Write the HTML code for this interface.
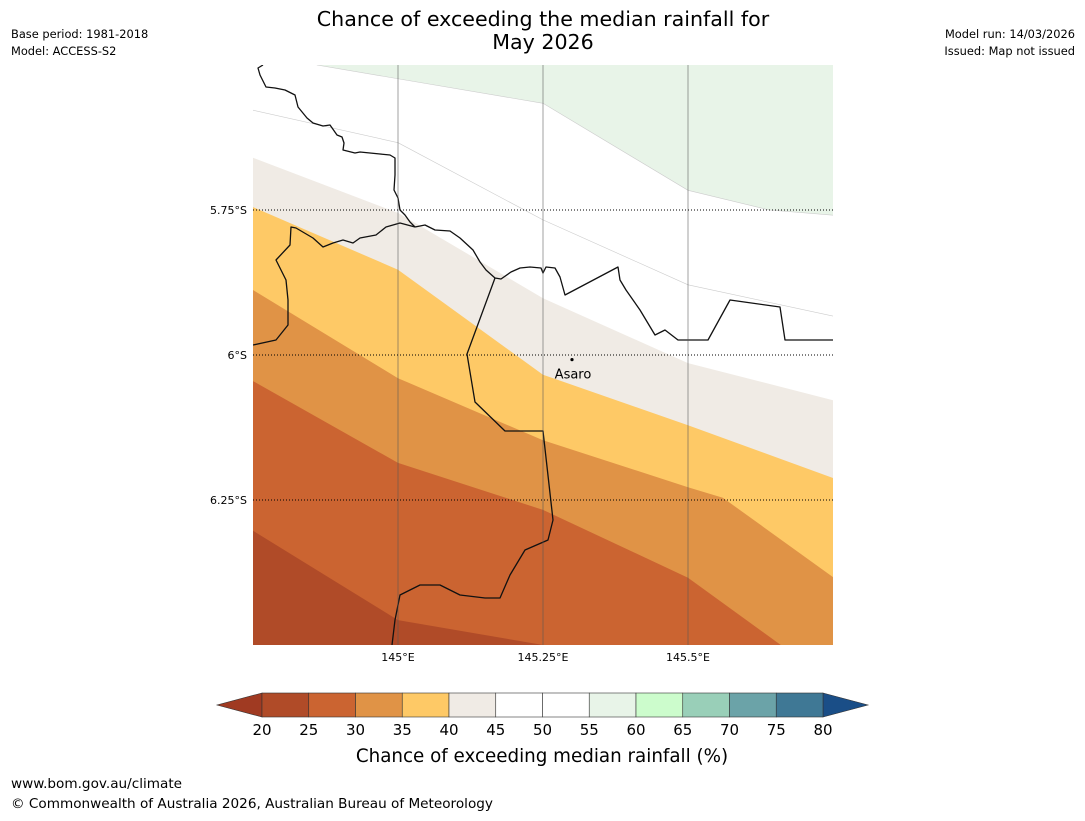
<!DOCTYPE html>
<html><head><meta charset="utf-8"><style>
body{margin:0;background:#fff;width:1085px;height:816px;overflow:hidden;font-family:"Liberation Sans","DejaVu Sans",sans-serif}
</style></head><body>
<svg id="s" width="1085" height="816" xmlns="http://www.w3.org/2000/svg" font-family="DejaVu Sans, Liberation Sans, sans-serif">
<text x="543" y="26" font-size="20.6" text-anchor="middle">Chance of exceeding the median rainfall for</text>
<text x="543" y="49" font-size="20.6" text-anchor="middle">May 2026</text>
<text x="11" y="38" font-size="11.4">Base period: 1981-2018</text>
<text x="11" y="55" font-size="11.4">Model: ACCESS-S2</text>
<text x="1075" y="38" font-size="11.4" text-anchor="end">Model run: 14/03/2026</text>
<text x="1075" y="55" font-size="11.4" text-anchor="end">Issued: Map not issued</text>
<clipPath id="mc"><rect x="253" y="65" width="580" height="580"/></clipPath>
<g id="map" clip-path="url(#mc)"></g>
<g id="grid"></g>
<g id="cbar"></g>
<text x="542" y="762" font-size="18.3" text-anchor="middle">Chance of exceeding median rainfall (%)</text>
<text x="11" y="788" font-size="13.6">www.bom.gov.au/climate</text>
<text x="11" y="808" font-size="13.6">© Commonwealth of Australia 2026, Australian Bureau of Meteorology</text>
</svg>
<script>
const lonRange=[144.75,145.75], latRange=[-5.5,-6.5];
const lonTicks=[145,145.25,145.5], lonLabels=['145°E','145.25°E','145.5°E'];
const latTicks=[-5.75,-6,-6.25], latLabels=['5.75°S','6°S','6.25°S'];
const bandLevels=[55,40,35,30,25,20];
const bandColors=['#e8f4e8','#f0ebe5','#fec966','#e09346','#cb6431','#b04b28'];
const bnd55=[[144.86,-5.5],[145.25,-5.566],[145.5,-5.716],[145.64,-5.75],[145.75,-5.759]];
const bnd50=[[144.75,-5.578],[145,-5.634],[145.25,-5.767],[145.5,-5.879],[145.75,-5.933]];
const bnd40=[[144.75,-5.66],[145,-5.755],[145.25,-5.902],[145.5,-6.014],[145.75,-6.078]];
const bnd35=[[144.75,-5.745],[145,-5.853],[145.25,-6.034],[145.5,-6.121],[145.75,-6.212]];
const bnd30=[[144.75,-5.888],[145,-6.04],[145.25,-6.147],[145.5,-6.228],[145.56,-6.246],[145.75,-6.383]];
const bnd25=[[144.75,-6.045],[145,-6.186],[145.25,-6.267],[145.5,-6.384],[145.66,-6.5]];
const bnd20=[[144.75,-6.303],[145,-6.457],[145.25,-6.5]];
// basemap outlines (digitised in pixel space, converted to lon/lat below)
const coastNPx=[[263,65],[258,68],[260,75],[266,87],[275,88],[285,90],[295,95],[298,107],[307,118],[313,123],[323,126],[330,125],[337,135],[342,137],[344,143],[343,150],[355,153],[360,152],[380,154],[390,155],[395,158],[395,175],[394,190],[398,198],[400,210],[405,215],[410,222],[415,227]];
const coastWPx=[[415,227],[400,223],[386,227],[376,235],[360,238],[353,243],[343,240],[333,243],[323,247],[313,238],[296,228],[291,227],[290,245],[276,260],[286,280],[288,300],[288,325],[276,340],[253,345]];
const coastEPx=[[415,227],[425,225],[435,230],[450,231],[460,238],[473,250],[480,262],[486,270],[495,278],[501,279],[511,272],[520,268],[530,267],[541,268],[543,273],[546,267],[555,268],[560,277],[565,295],[618,267],[620,280],[626,290],[640,310],[655,335],[665,330],[678,340],[708,340],[730,300],[780,307],[785,340],[833,340]];
const borderPx=[[495,278],[467,354],[475,402],[505,431],[543,431],[553,520],[548,540],[525,550],[510,575],[500,598],[485,598],[460,595],[440,585],[420,585],[400,595],[395,620],[392,645]];
const cbLevels=[20,25,30,35,40,45,50,55,60,65,70,75,80];
const cbColors=['#b04b28','#cb6431','#e09346','#fec966','#f0ebe5','#ffffff','#ffffff','#e8f4e8','#ccfccc','#99cfb8','#6ba3a8','#3f7895'];
const town={name:'Asaro',lon:145.3,lat:-6.008};

const X=l=>253+(l-lonRange[0])/(lonRange[1]-lonRange[0])*580;
const Y=l=>65+(l-latRange[0])/(latRange[1]-latRange[0])*580;
const toLL=a=>a.map(p=>[lonRange[0]+(p[0]-253)/580,latRange[0]-(p[1]-65)/580]);
const NS='http://www.w3.org/2000/svg';
function mk(t,a,p){const e=document.createElementNS(NS,t);for(const k in a)e.setAttribute(k,a[k]);p.appendChild(e);return e;}
const pts=a=>a.map(p=>X(p[0]).toFixed(1)+','+Y(p[1]).toFixed(1)).join(' ');
const map=document.getElementById('map');
mk('rect',{x:253,y:65,width:580,height:580,fill:'#fff'},map);
let g=mk('polygon',{points:pts([[bnd55[0][0],-5.45],...bnd55,[145.8,-5.759],[145.8,-5.45]]),fill:bandColors[0]},map);


const bands=[bnd40,bnd35,bnd30,bnd25,bnd20];
bands.forEach((b,i)=>{
  const first=b[0],last=b[b.length-1];
  const poly=[[144.7,first[1]],...b,[last[0]+0.1,last[1]],[145.8,-6.6],[144.7,-6.6]];
  const e=mk('polygon',{points:pts(poly),fill:bandColors[i+1]},map);
  
  
});
mk('polyline',{points:pts(bnd55),fill:'none',stroke:'#ccc','stroke-width':0.6},map);
mk('polyline',{points:pts(bnd50),fill:'none',stroke:'#ccc','stroke-width':0.6},map);
[coastNPx,coastWPx,coastEPx,borderPx].forEach((c,i)=>{
  const e=mk('polyline',{points:pts(toLL(c)),fill:'none',stroke:'#111','stroke-width':1.3,'stroke-linejoin':'round'},map);
  
  
});
const grid=document.getElementById('grid');
lonTicks.forEach((l,i)=>{
  mk('line',{x1:X(l),x2:X(l),y1:65,y2:645,stroke:'#555','stroke-width':0.8,'stroke-opacity':0.7},grid);
  const t=mk('text',{x:X(l),y:661,'font-size':11,'text-anchor':'middle'},grid);t.textContent=lonLabels[i];
  
  
});
latTicks.forEach((l,i)=>{
  mk('line',{x1:253,x2:833,y1:Y(l),y2:Y(l),stroke:'#000','stroke-width':0.9,'stroke-dasharray':'1,2'},grid);
  const t=mk('text',{x:247,y:Y(l)+4,'font-size':11,'text-anchor':'end'},grid);t.textContent=latLabels[i];
  
  
});
mk('circle',{cx:X(town.lon),cy:Y(town.lat),r:1.6,fill:'#000'},grid);
let tt=mk('text',{x:X(town.lon)+1,y:Y(town.lat)+19,'font-size':13,'text-anchor':'middle'},grid);tt.textContent=town.name;


const cb=document.getElementById('cbar');
const CX=v=>262+(v-20)/60*561;
mk('polygon',{points:`262,693 217,705 262,717`,fill:'#a03a22',stroke:'#333','stroke-width':0.6},cb);
mk('polygon',{points:`823,693 868,705 823,717`,fill:'#1a4e87',stroke:'#333','stroke-width':0.6},cb);
cbColors.forEach((c,i)=>{
  const r=mk('rect',{x:CX(cbLevels[i]),y:693,width:CX(cbLevels[i+1])-CX(cbLevels[i]),height:24,fill:c,stroke:'#333','stroke-width':0.6},cb);
  
  
});
cbLevels.forEach(v=>{
  const t=mk('text',{x:CX(v),y:735,'font-size':15,'text-anchor':'middle'},cb);t.textContent=v;
  
  
});
</script>
</body></html>
